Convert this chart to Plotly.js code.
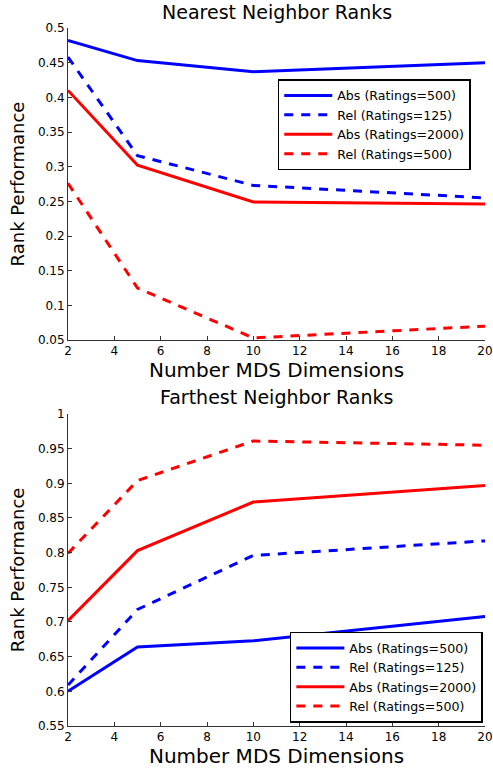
<!DOCTYPE html>
<html>
<head>
<meta charset="utf-8">
<script src="https://cdn.plot.ly/plotly-3.0.1.min.js"></script>
<style>html,body{margin:0;padding:0;background:#fff;}#chart{width:493px;height:768px;}</style>
</head>
<body>
<div id="chart"></div>
<script>
// Data
const dims = [2, 5, 10, 20];
const seriesNames = ["Abs (Ratings=500)", "Rel (Ratings=125)", "Abs (Ratings=2000)", "Rel (Ratings=500)"];
const nearestAbs500 = [0.482, 0.453, 0.437, 0.450];
const nearestRel125 = [0.458, 0.316, 0.273, 0.255];
const nearestAbs2000 = [0.410, 0.302, 0.249, 0.246];
const nearestRel500 = [0.276, 0.125, 0.053, 0.070];
const farthestAbs500 = [0.600, 0.664, 0.673, 0.708];
const farthestRel125 = [0.609, 0.718, 0.796, 0.817];
const farthestAbs2000 = [0.702, 0.803, 0.873, 0.897];
const farthestRel500 = [0.799, 0.904, 0.961, 0.955];
const xTicks = [2, 4, 6, 8, 10, 12, 14, 16, 18, 20];
const yTicksTop = [0.05, 0.1, 0.15, 0.2, 0.25, 0.3, 0.35, 0.4, 0.45, 0.5];
const yTickTextTop = ["0.05", "0.1", "0.15", "0.2", "0.25", "0.3", "0.35", "0.4", "0.45", "0.5"];
const yTicksBot = [0.55, 0.6, 0.65, 0.7, 0.75, 0.8, 0.85, 0.9, 0.95, 1];
const yTickTextBot = ["0.55", "0.6", "0.65", "0.7", "0.75", "0.8", "0.85", "0.9", "0.95", "1"];
const titleTop = "Nearest Neighbor Ranks";
const titleBot = "Farthest Neighbor Ranks";
const xTitle = "Number MDS Dimensions";
const yTitle = "Rank Performance";

const FONT = "DejaVu Sans, Liberation Sans, Arial, sans-serif";
const BLUE = "#0000ff", RED = "#ff0000";
const DASH = "9px,8px";
const styles = [
  {color: BLUE, dash: "solid"},
  {color: BLUE, dash: DASH},
  {color: RED, dash: "solid"},
  {color: RED, dash: DASH}
];
const topSeries = [nearestAbs500, nearestRel125, nearestAbs2000, nearestRel500];
const botSeries = [farthestAbs500, farthestRel125, farthestAbs2000, farthestRel500];

const traces = [];
topSeries.forEach((ys, i) => traces.push({
  x: dims, y: ys, name: seriesNames[i], type: "scatter", mode: "lines",
  line: {color: styles[i].color, dash: styles[i].dash, width: 3},
  xaxis: "x", yaxis: "y", legend: "legend"
}));
botSeries.forEach((ys, i) => traces.push({
  x: dims, y: ys, name: seriesNames[i], type: "scatter", mode: "lines",
  line: {color: styles[i].color, dash: styles[i].dash, width: 3},
  xaxis: "x2", yaxis: "y2", legend: "legend2"
}));

const axisCommon = {
  showgrid: false, zeroline: false, showline: true, linecolor: "#333", linewidth: 1,
  ticks: "inside", ticklen: 4, tickcolor: "#333", tickwidth: 1, automargin: false,
  tickfont: {family: FONT, size: 12, color: "#000"}, mirror: false
};
const legendCommon = {
  bgcolor: "#fff", bordercolor: "#000", borderwidth: 1.5,
  font: {family: FONT, size: 12.6, color: "#000"},
  xanchor: "left", yanchor: "top", tracegroupgap: 0, itemwidth: 48
};
const xTitleFont = {family: FONT, size: 20, color: "#000"};
const yTitleFont = {family: FONT, size: 18, color: "#000"};

const layout = {
  width: 493, height: 768,
  margin: {l: 68, r: 8, t: 28, b: 42, autoexpand: false},
  paper_bgcolor: "#fff", plot_bgcolor: "#fff",
  font: {family: FONT, color: "#000"},
  showlegend: true,
  xaxis: Object.assign({}, axisCommon, {
    domain: [0, 1], range: [2, 20], tickvals: xTicks, anchor: "y",
    title: {text: xTitle, font: xTitleFont, standoff: 2}
  }),
  yaxis: Object.assign({}, axisCommon, {
    domain: [0.553, 1], range: [0.05, 0.5], tickvals: yTicksTop, ticktext: yTickTextTop, anchor: "x",
    title: {text: yTitle, font: yTitleFont, standoff: 8}
  }),
  xaxis2: Object.assign({}, axisCommon, {
    domain: [0, 1], range: [2, 20], tickvals: xTicks, anchor: "y2",
    title: {text: xTitle, font: xTitleFont, standoff: 2}
  }),
  yaxis2: Object.assign({}, axisCommon, {
    domain: [0, 0.447], range: [0.55, 1], tickvals: yTicksBot, ticktext: yTickTextBot, anchor: "x2",
    title: {text: yTitle, font: yTitleFont, standoff: 8}
  }),
  legend: Object.assign({}, legendCommon, {x: 0.503, y: 0.9265}),
  legend2: Object.assign({}, legendCommon, {x: 0.532, y: 0.1351}),
  annotations: [
    {text: titleTop, xref: "paper", yref: "paper", x: 0.5, y: 1, yshift: 28 - 12, xanchor: "center", yanchor: "middle",
     showarrow: false, font: {family: FONT, size: 19, color: "#000"}},
    {text: titleBot, xref: "paper", yref: "paper", x: 0.5, y: 0.447, yshift: 414 - 397, xanchor: "center", yanchor: "middle",
     showarrow: false, font: {family: FONT, size: 19, color: "#000"}}
  ]
};

Plotly.newPlot("chart", traces, layout, {displayModeBar: false, staticPlot: true});
</script>
</body>
</html>
